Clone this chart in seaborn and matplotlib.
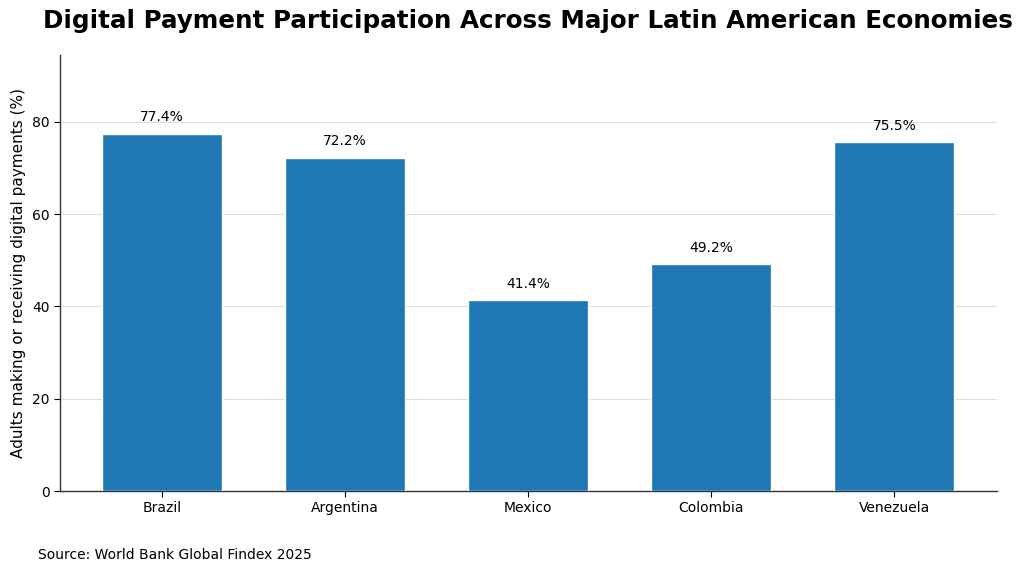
import matplotlib
matplotlib.use("Agg")
import matplotlib.pyplot as plt
import seaborn as sns
import pandas as pd

countries = ["Brazil", "Argentina", "Mexico", "Colombia", "Venezuela"]
values = [77.4, 72.2, 41.4, 49.2, 75.5]

sns.set_style("white")
plt.rcParams['font.family'] = ['DejaVu Sans']
plt.rcParams['text.color'] = 'black'

df = pd.DataFrame({"country": countries, "value": values})

fig = plt.figure(figsize=(10.24, 5.75), dpi=100)
ax = fig.add_axes([0.0586, 0.146, 0.915, 0.758])
sns.barplot(data=df, x="country", y="value", color="#1f77b4", saturation=1,
            width=0.655, ax=ax, zorder=3)
ax.set_ylim(0, 94.4)
ax.set_xlim(-0.557, 4.56)
ax.set_yticks([0, 20, 40, 60, 80])
ax.yaxis.grid(True, color="#dddddd", linewidth=0.8, zorder=0)
ax.set_axisbelow(True)
for s in ["top", "right"]:
    ax.spines[s].set_visible(False)
for s in ["left", "bottom"]:
    ax.spines[s].set_color("#333333")
    ax.spines[s].set_linewidth(1.0)
ax.tick_params(axis="both", which="both", length=4, labelsize=10, colors="black", left=True, bottom=True)
ax.set_xlabel("")
ax.set_ylabel("Adults making or receiving digital payments (%)", fontsize=11, color="black")
for i, v in enumerate(values):
    ax.text(i, v + 2.0, f"{v:.1f}%", ha="center", va="bottom", fontsize=10, color="black")
fig.suptitle("Digital Payment Participation Across Major Latin American Economies",
             fontsize=17.7, fontweight="bold", x=0.516, y=0.985, color="black")
fig.text(0.037, 0.027, "Source: World Bank Global Findex 2025", fontsize=10, color="black")
fig.savefig("out.png", dpi=100)
